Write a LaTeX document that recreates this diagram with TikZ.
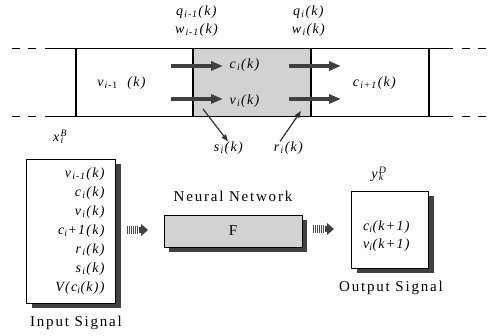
\documentclass[tikz,border=0pt]{standalone}
\usepackage{fontspec}
\setmainfont[LetterSpace=9]{Liberation Serif}
\newfontfamily\capfont[LetterSpace=12]{Liberation Serif}
\usetikzlibrary{arrows.meta,shadows}
\newcommand{\sg}[3]{\textit{#1}\textsubscript{\textit{#2}}\textit{(#3)}}
\tikzstyle{road}=[line width=1pt]
\tikzstyle{wall}=[line width=1.3pt]
\tikzstyle{flow}=[line width=3.2pt, black!75, -{Triangle[length=12pt, width=9pt]}]
\tikzstyle{feed}=[line width=1.2pt, black!80, -{Triangle[length=7pt, width=5pt]}]
\tikzstyle{lbl}=[inner sep=0, font=\fontsize{14}{16}\selectfont]
\tikzstyle{captxt}=[inner sep=0, font=\capfont\fontsize{15}{17}\selectfont]
\tikzstyle{box}=[draw, line width=0.8pt, fill=white, inner sep=0,
  drop shadow={shadow xshift=5pt, shadow yshift=-5pt, fill=black!75, opacity=1}]
\tikzstyle{feedin}=[line width=0.6pt, black!70]

\begin{document}
\begin{tikzpicture}[x=1pt, y=-1pt]
\useasboundingbox (0,0) rectangle (491,336);
% road section
\fill[gray!35] (193,49) rectangle (311,117);
\draw[road] (45,49) -- (453,49);
\draw[road] (45,117) -- (453,117);
\draw[road, dash pattern=on 8pt off 8pt] (12,49) -- (42,49);
\draw[road, dash pattern=on 8pt off 8pt] (12,117) -- (42,117);
\draw[road, dash pattern=on 8pt off 8pt] (462,49) -- (491,49);
\draw[road, dash pattern=on 8pt off 8pt] (462,117) -- (491,117);
\foreach \x in {76,193,311,429} {\draw[wall] (\x,49) -- (\x,117);}
\node at (122,83)[lbl](vprev){\textit{v}\textsubscript{\textit{i}-1}\ \ \textit{(k)}};
\node at (245,65)[lbl](ccur){\sg{c}{i}{k}};
\node at (245,101)[lbl](vcur){\sg{v}{i}{k}};
\node at (375,83)[lbl](cnext){\sg{c}{i+1}{k}};
\node at (197,12)[lbl](qprev){\sg{q}{i-1}{k}};
\node at (197,30)[lbl](wprev){\sg{w}{i-1}{k}};
\node at (309,12)[lbl](qcur){\sg{q}{i}{k}};
\node at (309,30)[lbl](wcur){\sg{w}{i}{k}};
\coordinate (a1) at (171,66); \coordinate (b1) at (223,66);
\coordinate (a2) at (171,99); \coordinate (b2) at (223,99);
\coordinate (a3) at (289,66); \coordinate (b3) at (341,66);
\coordinate (a4) at (289,99); \coordinate (b4) at (341,99);
\foreach \i in {1,...,4} {\draw[flow] (a\i) -- (b\i);}
\node at (229,148)[lbl](sout){\sg{s}{i}{k}};
\node at (289,148)[lbl](rin){\sg{r}{i}{k}};
\coordinate (soff) at (203,109);
\coordinate (ron) at (301,111);
\draw[feed] (soff) -- ([xshift=-1pt]sout.north);
\draw[feed] ([xshift=-9pt]rin.north) -- (ron);
% neural network model
\node at (59,137)[lbl](xin){\textit{x}\rlap{\textsuperscript{\textit{B}}}\textsubscript{\textit{i}}};
\node at (71,231)[box, minimum width=89pt, minimum height=144pt](inbox){};
\node at (106,231)[lbl, anchor=east, align=right, font=\fontsize{14}{19}\selectfont](inlist){%
\sg{v}{i-1}{k}\\ \sg{c}{i}{k}\\ \sg{v}{i}{k}\\ \textit{c\textsubscript{i}+1(k)}\\
\sg{r}{i}{k}\\ \sg{s}{i}{k}\\ \textit{V(c\textsubscript{i}(k))}};
\node at (76,323)[captxt](intxt){Input Signal};
\node at (233,231)[box, fill=gray!35, minimum width=138pt, minimum height=32pt](nn){\fontsize{15}{17}\selectfont F};
\node at (233,196)[captxt](nntxt){Neural Network};
\node at (390,229.5)[box, minimum width=77pt, minimum height=77pt](outbox){};
\node at (387,236)[lbl, align=center, font=\fontsize{14}{18}\selectfont](outlist){%
\textit{c\textsubscript{i}(k+1)}\\ \textit{v\textsubscript{i}(k+1)}};
\node at (378,174)[lbl](yout){\textit{y}\rlap{\textsuperscript{\textit{D}}}\textsubscript{\textit{k}}};
\node at (391,288)[captxt](outtxt){Output Signal};
% striped feed arrows
\coordinate (p1) at (127,230);
\coordinate (p2) at (313,229);
\foreach \p in {p1,p2} {
  \foreach \d in {0,2,...,10} {\draw[feedin] ([xshift=\d pt, yshift=-4pt]\p) -- ([xshift=\d pt, yshift=4pt]\p);}
  \fill[black!75] ([xshift=12pt, yshift=-3pt]\p) -- ([xshift=14pt, yshift=-3pt]\p) -- ([xshift=14pt, yshift=-6pt]\p)
    -- ([xshift=21pt]\p) -- ([xshift=14pt, yshift=6pt]\p) -- ([xshift=14pt, yshift=3pt]\p) -- ([xshift=12pt, yshift=3pt]\p) -- cycle;
}
\end{tikzpicture}
\end{document}
